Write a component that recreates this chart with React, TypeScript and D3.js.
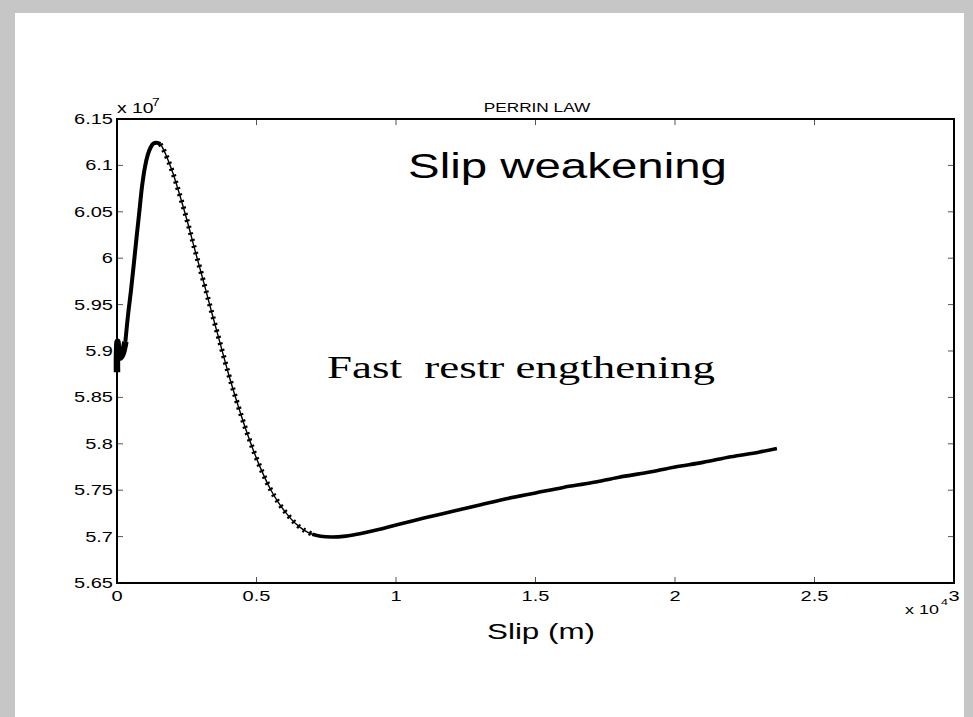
import React from "react";
import * as d3 from "d3";

// Slip in units of 1e4 m, stress in units of 1e7
const slip: number[] = [
  0, 0, 0.002, 0.004, 0.012, 0.02, 0.03,
  0.04, 0.05, 0.06, 0.07, 0.08, 0.09, 0.1, 0.11, 0.12, 0.13, 0.143,
  0.155, 0.165, 0.18, 0.2, 0.22, 0.25, 0.28, 0.31, 0.34, 0.37, 0.4, 0.43, 0.46, 0.49, 0.52, 0.55, 0.58, 0.61, 0.64,
  0.67, 0.7, 0.73, 0.77, 0.82, 0.87, 0.93, 1.0, 1.1, 1.2, 1.3, 1.4, 1.5, 1.6, 1.7, 1.8, 1.9, 2.0, 2.1, 2.2, 2.3, 2.365,
];
const stress: number[] = [
  5.877, 5.895, 5.91, 5.9, 5.893, 5.897, 5.91,
  5.94, 5.965, 5.993, 6.022, 6.05, 6.078, 6.098, 6.111, 6.119, 6.1235, 6.1245,
  6.123, 6.118, 6.108, 6.092, 6.073, 6.042, 6.008, 5.975, 5.941, 5.908, 5.875, 5.845, 5.817, 5.792, 5.77, 5.751, 5.736, 5.724, 5.714,
  5.707, 5.7025, 5.7003, 5.6995, 5.7005, 5.703, 5.707, 5.7125, 5.72, 5.727, 5.734, 5.741, 5.747, 5.753, 5.758, 5.764, 5.769, 5.775, 5.78, 5.786, 5.791, 5.795,
];

const xTicks: number[] = [0, 0.5, 1, 1.5, 2, 2.5, 3];
const xTickLabels: string[] = ["0", "0.5", "1", "1.5", "2", "2.5", "3"];
const yTicks: number[] = [5.65, 5.7, 5.75, 5.8, 5.85, 5.9, 5.95, 6, 6.05, 6.1, 6.15];
const yTickLabels: string[] = ["5.65", "5.7", "5.75", "5.8", "5.85", "5.9", "5.95", "6", "6.05", "6.1", "6.15"];

const W = 973;
const H = 717;
const L = 117, R = 954, T = 119, B = 583;
const SANS = "'Liberation Sans', Arial, sans-serif";
const SERIF = "'Liberation Serif', 'Times New Roman', serif";
const SX = 1.38;

function Txt(props: { x: number; y: number; size: number; anchor?: string; children: React.ReactNode; sx?: number; family?: string }) {
  const { x, y, size, anchor = "start", children, sx = SX, family = SANS } = props;
  return (
    <text
      transform={`translate(${x},${y}) scale(${sx},1)`}
      textAnchor={anchor}
      fontFamily={family}
      fontSize={size}
      fill="#000"
    >
      {children}
    </text>
  );
}

export default function App() {
  const x = d3.scaleLinear().domain([0, 3]).range([L, R]);
  const y = d3.scaleLinear().domain([5.65, 6.15]).range([B, T]);
  const pts: [number, number][] = slip.map((s, i) => [s, stress[i]]);
  const line = d3
    .line<[number, number]>()
    .x((d) => x(d[0]))
    .y((d) => y(d[1]))
    .curve(d3.curveCatmullRom.alpha(0.5));

  const seg0 = pts.slice(0, 7);
  const seg1 = pts.slice(6, 19);
  const seg2 = pts.slice(18, 39);
  const seg3 = pts.slice(38);

  const tickLen = 6;

  return (
    <svg
      width={W}
      height={H}
      style={{ position: "absolute", left: 0, top: 0, display: "block" }}
    >
      <rect x={0} y={0} width={W} height={H} fill="#c6c6c6" />
      <rect x={15} y={13} width={949} height={H - 13} fill="#ffffff" />

      {/* ticks */}
      {xTicks.map((t) => (
        <g key={"xt" + t} stroke="#555" strokeWidth={1}>
          <line x1={x(t)} x2={x(t)} y1={B} y2={B - tickLen} />
          <line x1={x(t)} x2={x(t)} y1={T} y2={T + tickLen} />
        </g>
      ))}
      {yTicks.map((t) => (
        <g key={"yt" + t} stroke="#555" strokeWidth={1}>
          <line x1={L} x2={L + tickLen} y1={y(t)} y2={y(t)} />
          <line x1={R} x2={R - tickLen} y1={y(t)} y2={y(t)} />
        </g>
      ))}

      {/* curve */}
      <path d={line(pts) || ""} fill="none" stroke="#000" strokeWidth={1.4} />
      <path d={line(seg0) || ""} fill="none" stroke="#000" strokeWidth={6.5} strokeLinejoin="round" />
      <path d={line(seg1) || ""} fill="none" stroke="#000" strokeWidth={4} />
      <path d={line(seg2) || ""} fill="none" stroke="#000" strokeWidth={5} strokeDasharray="2.2 4.5" />
      <path d={line(seg3) || ""} fill="none" stroke="#000" strokeWidth={3.6} />

      {/* frame */}
      <rect x={L} y={T} width={R - L} height={B - T} fill="none" stroke="#000" strokeWidth={2} />

      {/* tick labels */}
      {yTicks.map((t, i) => (
        <Txt key={"yl" + t} x={113} y={y(t) + 5} size={14.5} anchor="end">
          {yTickLabels[i]}
        </Txt>
      ))}
      {xTicks.map((t, i) => (
        <Txt key={"xl" + t} x={x(t)} y={601} size={14.5} anchor="middle">
          {xTickLabels[i]}
        </Txt>
      ))}

      {/* exponents */}
      <Txt x={117} y={113} size={14}>x 10</Txt>
      <Txt x={152} y={106} size={10}>7</Txt>
      <Txt x={905} y={614} size={13}>x 10</Txt>
      <Txt x={941} y={605} size={9}>4</Txt>

      {/* title */}
      <Txt x={537} y={112} size={12.5} anchor="middle">PERRIN LAW</Txt>

      {/* annotations */}
      <text x={408} y={178} fontFamily={SANS} fontSize={35} textLength={319} lengthAdjust="spacingAndGlyphs">
        Slip weakening
      </text>
      <text x={327} y={378} fontFamily={SERIF} fontSize={31} textLength={388} lengthAdjust="spacingAndGlyphs" style={{ whiteSpace: "pre" }}>
        {"Fast  restr engthening"}
      </text>

      {/* x label */}
      <text x={487} y={639} fontFamily={SANS} fontSize={22} textLength={108} lengthAdjust="spacingAndGlyphs">
        Slip (m)
      </text>
    </svg>
  );
}
